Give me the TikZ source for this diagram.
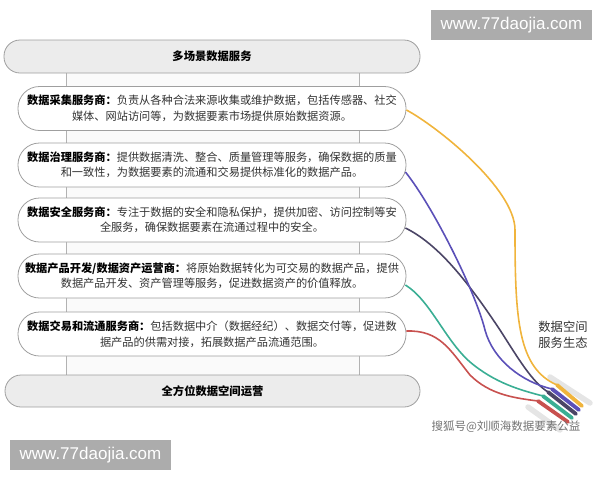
\documentclass[tikz,border=0pt]{standalone}
\usepackage{fontspec}
\setmainfont{Noto Sans CJK SC}
\newfontfamily\urlfont{Liberation Sans}
\usetikzlibrary{calc}

\definecolor{cOrange}{HTML}{F0B43C}
\definecolor{cPurple}{HTML}{5B50B8}
\definecolor{cSlate}{HTML}{4B4566}
\definecolor{cTeal}{HTML}{3AAE94}
\definecolor{cRed}{HTML}{C8514F}

\tikzset{
    bar/.style={draw=gray!75, line width=0.8pt, fill=gray!15, rounded corners=16pt,
        minimum width=416pt, minimum height=33pt, inner sep=0pt,
        font=\bfseries\fontsize{11.3}{14}\selectfont},
    card/.style={draw=gray!75, line width=0.8pt, fill=white, rounded corners=21.5pt,
        minimum width=388pt, minimum height=44pt, inner sep=0pt, align=center,
        text=black!80, font=\fontsize{11.2}{15.5}\selectfont},
    cable/.style={line width=1.6pt},
    plug/.style={line width=3.8pt, line cap=round},
    ghost/.style={line width=5.5pt, line cap=round, gray!20},
    stamp/.style={fill=gray!65, text=white, font=\urlfont\fontsize{17}{20}\selectfont,
        minimum width=161pt, minimum height=30pt, inner sep=0pt}
}

\begin{document}
\begin{tikzpicture}[x=1pt, y=-1pt]
            \useasboundingbox (0,0) rectangle (600,480);

            % frame between the two bars
            \fill[gray!4] (66,73) rectangle (359,375);
            \draw[gray!60, line width=0.8pt] (66,73) -- (66,375);
            \draw[gray!60, line width=0.8pt] (359,73) -- (359,375);

            \node[bar] (top) at (212,56.5) {多场景数据服务};
            \node[bar, minimum width=415pt, minimum height=32pt] (bot) at (212.5,391) {全方位数据空间运营};

            \node[card] (b1) at (212,108.5) {\textbf{\color{black}数据采集服务商：}负责从各种合法来源收集或维护数据，包括传感器、社交\\媒体、网站访问等，为数据要素市场提供原始数据资源。};
            \node[card] (b2) at (212,165) {\textbf{\color{black}数据治理服务商：}提供数据清洗、整合、质量管理等服务，确保数据的质量\\和一致性，为数据要素的流通和交易提供标准化的数据产品。};
            \node[card] (b3) at (212,220) {\textbf{\color{black}数据安全服务商：}专注于数据的安全和隐私保护，提供加密、访问控制等安\\全服务，确保数据要素在流通过程中的安全。};
            \node[card] (b4) at (212,276) {\textbf{\color{black}数据产品开发/数据资产运营商：}将原始数据转化为可交易的数据产品，提供\\数据产品开发、资产管理等服务，促进数据资产的价值释放。};
            \node[card] (b5) at (212,334) {\textbf{\color{black}数据交易和流通服务商：}包括数据中介（数据经纪）、数据交付等，促进数\\据产品的供需对接，拓展数据产品流通范围。};

            % plug ends
            \coordinate (po1) at (557,385);
            \coordinate (pe1) at (582,406);
            \coordinate (po2) at (552,389);
            \coordinate (pe2) at (579,410);
            \coordinate (po3) at (548,392);
            \coordinate (pe3) at (576,414);
            \coordinate (po4) at (543,396);
            \coordinate (pe4) at (572,418);
            \coordinate (po5) at (538,401);
            \coordinate (pe5) at (568,422);

            \draw[ghost] (550,377) -- (590,403);
            \draw[ghost] (528,407) -- (560,430);

            \draw[cable,cRed] ($(b5.east)+(0,-3)$) .. controls (440,330) and (450,350) .. (470,375) .. controls (490,395) and (515,398) .. (po5);
            \draw[cable,cTeal] ($(b4.east)+(-1,9)$) .. controls (430,300) and (445,340) .. (470,362) .. controls (495,383) and (520,390) .. (po4);
            \draw[cable,cSlate] ($(b3.east)+(-1,8)$) .. controls (440,245) and (470,285) .. (500,330) .. controls (518,358) and (532,382) .. (po3);
            \draw[cable,cPurple] ($(b2.east)+(-1,7)$) .. controls (432,205) and (475,290) .. (485,330) .. controls (493,360) and (522,382) .. (po2);
            \draw[cable,cOrange] ($(b1.east)+(0,1.5)$) .. controls (435,125) and (515,188) .. (515,230) .. controls (515,320) and (518,368) .. (po1);

            \draw[plug,cRed] (po5) -- (pe5);
            \draw[plug,cTeal] (po4) -- (pe4);
            \draw[plug,cSlate] (po3) -- (pe3);
            \draw[plug,cPurple] (po2) -- (pe2);
            \draw[plug,cOrange] (po1) -- (pe1);

            \node[align=center, text=black!80, font=\fontsize{12.3}{16}\selectfont] (eco) at (563,335) {数据空间\\服务生态};
            \node[text=black!55, font=\fontsize{11.5}{13}\selectfont] (sohu) at (506,427) {搜狐号@刘顺海数据要素公益};

            \node[stamp] (wm1) at (511.5,25) {www.77daojia.com};
            \node[stamp] (wm2) at (90.5,455) {www.77daojia.com};
\end{tikzpicture}
\end{document}
